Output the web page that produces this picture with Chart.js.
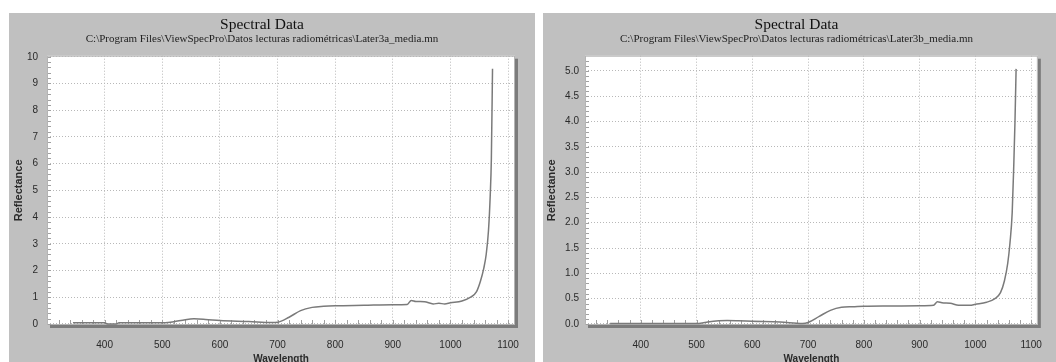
<!DOCTYPE html>
<html>
<head>
<meta charset="utf-8">
<script src="https://cdn.jsdelivr.net/npm/chart.js@4.4.0/dist/chart.umd.min.js"></script>
<style>
    body { margin: 0; background: #fff; width: 1056px; height: 362px; overflow: hidden; position: relative; }
    .panel { position: absolute; top: 13px; height: 349px; background: #c0c0c0; overflow: hidden; }
    #panelA { left: 9px; width: 526px; }
    #panelB { left: 543px; width: 513px; }
    canvas { display: block; }
</style>
</head>
<body>
<div class="panel" id="panelA"><canvas id="chartA" width="526" height="352"></canvas></div>
<div class="panel" id="panelB"><canvas id="chartB" width="513" height="352"></canvas></div>
<script>
// Spectra
const wavelengths = [345, 400, 405, 420, 425, 500, 510, 520, 540, 555,
    575, 600, 650, 690, 700, 720, 740, 760, 780, 800,
    850, 900, 925, 932, 940, 955, 970, 980, 990, 1000,
    1020, 1035, 1045, 1052, 1058, 1062, 1066, 1069, 1071, 1073];
const reflectanceA = [0.04, 0.04, 0.0, 0.0, 0.04, 0.04, 0.05, 0.08, 0.16, 0.19,
    0.17, 0.13, 0.09, 0.05, 0.06, 0.25, 0.5, 0.62, 0.66, 0.68,
    0.7, 0.72, 0.73, 0.88, 0.84, 0.83, 0.75, 0.77, 0.75, 0.79,
    0.86, 1.0, 1.2, 1.6, 2.1, 2.6, 3.5, 4.8, 6.2, 9.55];
const reflectanceB = [0.01, 0.01, 0.01, 0.01, 0.01, 0.01, 0.02, 0.04, 0.065, 0.07,
    0.065, 0.055, 0.04, 0.01, 0.03, 0.15, 0.27, 0.33, 0.34, 0.35,
    0.355, 0.36, 0.37, 0.44, 0.42, 0.41, 0.37, 0.37, 0.37, 0.39,
    0.43, 0.5, 0.62, 0.85, 1.2, 1.6, 2.2, 3.2, 4.0, 5.04];

const xTicks = [400, 500, 600, 700, 800, 900, 1000, 1100];
const yTicksA = [0, 1, 2, 3, 4, 5, 6, 7, 8, 9, 10];
const yTicksB = [0, 0.5, 1.0, 1.5, 2.0, 2.5, 3.0, 3.5, 4.0, 4.5, 5.0];

const titleText = 'Spectral Data';
const fileA = 'C:\\Program Files\\ViewSpecPro\\Datos lecturas radiométricas\\Later3a_media.mn';
const fileB = 'C:\\Program Files\\ViewSpecPro\\Datos lecturas radiométricas\\Later3b_media.mn';

// white plot box with drop shadow, plus the small minor ticks
const plotFrame = {
    id: 'plotFrame',
    beforeDraw(chart) {
        const a = chart.chartArea;
        const ctx = chart.ctx;
        ctx.save();
        ctx.fillStyle = '#7b7b7b';
        ctx.fillRect(a.left + 3, a.top + 3, a.width, a.height);
        ctx.fillStyle = '#ffffff';
        ctx.fillRect(a.left, a.top, a.width, a.height);
        ctx.strokeStyle = '#b4b4b4';
        ctx.lineWidth = 1;
        ctx.strokeRect(a.left + 0.5, a.top + 0.5, a.width - 1, a.height - 1);
        ctx.restore();
    },
    beforeDatasetsDraw(chart, args, opts) {
        const a = chart.chartArea;
        const ctx = chart.ctx;
        const xs = chart.scales.x;
        const ys = chart.scales.y;
        ctx.save();
        ctx.strokeStyle = '#a0a0a0';
        ctx.lineWidth = 1;
        ctx.beginPath();
        for (let i = 1; 300 + i * 20 < xs.max; i++) {
            const px = Math.round(xs.getPixelForValue(300 + i * 20)) + 0.5;
            ctx.moveTo(px, a.bottom - 1);
            ctx.lineTo(px, a.bottom - 5);
        }
        for (let i = 0; i * opts.yMinor <= ys.max; i++) {
            const py = Math.round(ys.getPixelForValue(i * opts.yMinor)) + 0.5;
            ctx.moveTo(a.left + 1, py);
            ctx.lineTo(a.left + 4, py);
        }
        ctx.stroke();
        ctx.restore();
    }
};

function makeChart(id, values, yTicks, yMin, yMax, yMinor, decimals, sub, axisWidth, labelPad, titlePad, padRight) {
    const points = wavelengths.map((w, i) => ({ x: w, y: values[i] }));
    new Chart(document.getElementById(id), {
        type: 'line',
        data: {
            datasets: [{
                data: points,
                borderColor: '#7a7a7a',
                borderWidth: 1.5,
                pointRadius: 0,
                cubicInterpolationMode: 'monotone',
                fill: false
            }]
        },
        options: {
            responsive: false,
            animation: false,
            events: [],
            layout: { padding: { left: 0, right: padRight, top: 0, bottom: 0 } },
            plugins: {
                legend: { display: false },
                tooltip: { enabled: false },
                title: {
                    display: true,
                    text: titleText,
                    color: '#111',
                    font: { family: 'Liberation Serif', size: 15.5, weight: 'normal', lineHeight: 1.0 },
                    padding: { top: 4, bottom: 0 }
                },
                subtitle: {
                    display: true,
                    text: sub,
                    color: '#222',
                    font: { family: 'Liberation Serif', size: 11, lineHeight: 1.2 },
                    padding: { top: 0, bottom: 10 }
                },
                plotFrame: { yMinor: yMinor }
            },
            scales: {
                x: {
                    type: 'linear',
                    min: 300,
                    max: 1112,
                    afterBuildTicks: s => { s.ticks = xTicks.map(v => ({ value: v })); },
                    afterFit: s => { s.height = 40; },
                    grid: { color: '#b8b8b8', drawTicks: false },
                    border: { display: false, dash: [1, 2] },
                    ticks: {
                        autoSkip: false, maxRotation: 0, padding: 14, color: '#2a2a2a',
                        font: { family: 'Arial', size: 10 },
                        callback: v => String(v)
                    },
                    title: { display: true, text: 'Wavelength', color: '#2a2a2a', padding: 0, font: { family: 'Arial', size: 10, weight: 'bold' } }
                },
                y: {
                    type: 'linear',
                    min: yMin,
                    max: yMax,
                    afterBuildTicks: s => { s.ticks = yTicks.map(v => ({ value: v })); },
                    afterFit: s => { s.width = axisWidth; },
                    grid: { color: '#b8b8b8', drawTicks: false },
                    border: { display: false, dash: [1, 2] },
                    ticks: {
                        padding: labelPad,
                        color: '#2a2a2a',
                        font: { family: 'Arial', size: 10 },
                        callback: v => v.toFixed(decimals)
                    },
                    title: { display: true, text: 'Reflectance', color: '#2a2a2a', padding: titlePad, font: { family: 'Arial', size: 11, weight: 'bold' } }
                }
            }
        },
        plugins: [plotFrame]
    });
}

makeChart('chartA', reflectanceA, yTicksA, -0.04, 10.04, 0.2, 0, fileA, 38, 9, 3, 20);
makeChart('chartB', reflectanceB, yTicksB, -0.02, 5.3, 0.1, 1, fileB, 42, 6, 2, 6);
</script>
</body>
</html>
